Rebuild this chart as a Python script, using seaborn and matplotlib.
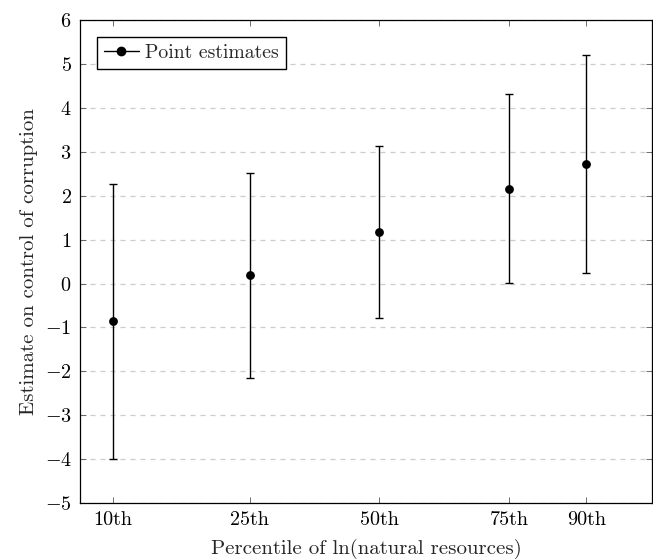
import matplotlib
matplotlib.use("Agg")
import matplotlib.pyplot as plt
from matplotlib.lines import Line2D
import seaborn as sns
import numpy as np
import pandas as pd

# === DATA ===
percentiles = ['10th', '25th', '50th', '75th', '90th']
x_pos = [0.58, 2.97, 5.23, 7.50, 8.85]          # position of each percentile on the x axis
estimates = [-0.86, 0.19, 1.17, 2.16, 2.72]
upper = [2.27, 2.51, 3.13, 4.31, 5.21]
lower = [-4.00, -2.14, -0.79, 0.01, 0.24]

df = pd.DataFrame({'x': x_pos, 'est': estimates, 'hi': upper, 'lo': lower})

# Seaborn style, then LaTeX-like fonts
sns.set_theme(style="ticks")
plt.rcParams['font.family'] = 'serif'
plt.rcParams['font.serif'] = ['cmr10']
plt.rcParams['mathtext.fontset'] = 'cm'
plt.rcParams['axes.formatter.use_mathtext'] = True

fig = plt.figure(figsize=(6.53, 5.59), dpi=100)
ax = fig.add_axes([0.1225, 0.100, 0.876, 0.864])

# error bars
yerr = np.vstack([df['est'] - df['lo'], df['hi'] - df['est']])
ax.errorbar(df['x'], df['est'], yerr=yerr, fmt='none', ecolor='black',
            elinewidth=1.0, capsize=3, capthick=1.0, zorder=2)
sns.scatterplot(data=df, x='x', y='est', color='black', s=40, edgecolor='black',
                linewidth=0, zorder=3, ax=ax, legend=False)

ax.set_xlim(0, 10)
ax.set_ylim(-5, 6)
ax.set_xticks(x_pos)
ax.set_xticklabels(percentiles)
ax.set_yticks(np.arange(-5, 7, 1))

ax.yaxis.grid(True, linestyle=(0, (4, 4)), color='#cccccc', linewidth=0.9)
ax.set_axisbelow(True)
for s in ax.spines.values():
    s.set_visible(True)
    s.set_color('black')
    s.set_linewidth(0.9)
ax.tick_params(direction='in', top=True, right=True, length=4, width=0.6,
               color='#555555', labelsize=14.5, labelcolor='black', pad=6)

ax.set_xlabel('Percentile of ln(natural resources)', fontsize=15, labelpad=7)
ax.set_ylabel('Estimate on control of corruption', fontsize=15, labelpad=5)

handle = Line2D([], [], color='black', marker='o', markersize=6, linewidth=1.0)
ax.legend([handle], ['Point estimates'], loc='upper left', fontsize=14.2,
          frameon=True, fancybox=False, edgecolor='black', framealpha=1,
          handlelength=1.8, handletextpad=0.3, borderpad=0.35,
          bbox_to_anchor=(0.012, 0.985))

fig.savefig('out.png', dpi=100)
plt.close(fig)
